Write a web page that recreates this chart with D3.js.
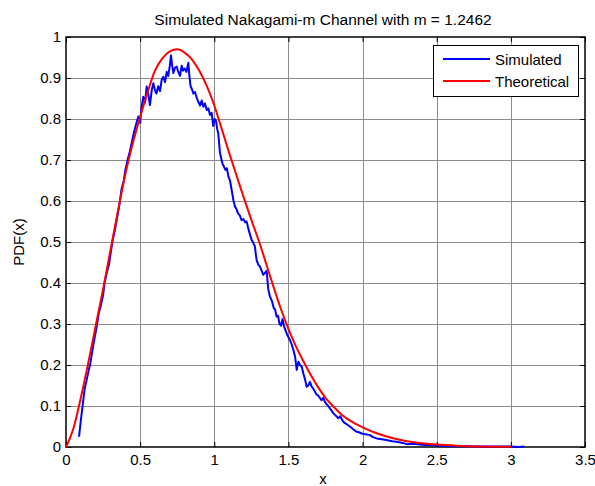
<!DOCTYPE html>
<html>
<head>
<meta charset="utf-8">
<script src="https://cdn.jsdelivr.net/npm/d3@7"></script>
<style>
  body { margin: 0; background: #fff; }
  text { font-family: "Liberation Sans", Arial, sans-serif; fill: #000; }
</style>
</head>
<body>
<div id="chart"></div>
<script>

// tick labels
var xTicks = [0, 0.5, 1, 1.5, 2, 2.5, 3, 3.5];
var yTicks = [0, 0.1, 0.2, 0.3, 0.4, 0.5, 0.6, 0.7, 0.8, 0.9, 1];

// theoretical pdf
var theoX = [0, 0.05, 0.1, 0.15, 0.2, 0.25, 0.3, 0.35, 0.4, 0.45,
             0.5, 0.55, 0.6, 0.65, 0.7, 0.75, 0.8, 0.85, 0.9, 0.95,
             1.0, 1.05, 1.1, 1.15, 1.2, 1.25, 1.3, 1.35, 1.4, 1.45,
             1.5, 1.55, 1.6, 1.65, 1.7, 1.75, 1.8, 1.85, 1.9, 1.95,
             2.0, 2.1, 2.2, 2.3, 2.4, 2.5, 2.6, 2.7, 2.8, 2.9, 3.0];
var theoY = [0, 0.045, 0.12, 0.205, 0.295, 0.385, 0.48, 0.575, 0.665, 0.74,
             0.805, 0.865, 0.918, 0.948, 0.965, 0.97, 0.962, 0.945, 0.917, 0.88,
             0.833, 0.776, 0.718, 0.662, 0.607, 0.554, 0.503, 0.447, 0.39, 0.336,
             0.288, 0.246, 0.21, 0.176, 0.146, 0.12, 0.10, 0.082, 0.068, 0.057,
             0.048, 0.033, 0.022, 0.014, 0.009, 0.006, 0.004, 0.002, 0.0012, 0.0007, 0.0004];

// simulated histogram pdf (noisy)
var simX = [0.088, 0.100, 0.112, 0.125, 0.140, 0.155, 0.165, 0.180, 0.195, 0.210,
            0.220, 0.235, 0.250, 0.260, 0.275, 0.290, 0.300, 0.315, 0.330, 0.345,
            0.360, 0.375, 0.390, 0.400, 0.415, 0.430, 0.445, 0.460, 0.475, 0.488,
            0.500, 0.510, 0.521, 0.533, 0.544, 0.555, 0.566, 0.578, 0.589, 0.600,
            0.610, 0.622, 0.634, 0.645, 0.656, 0.668, 0.679, 0.690, 0.700, 0.708,
            0.716, 0.724, 0.735, 0.746, 0.757, 0.769, 0.780, 0.790, 0.800, 0.812,
            0.825, 0.832, 0.840, 0.850, 0.859, 0.870, 0.881, 0.892, 0.904, 0.915,
            0.926, 0.937, 0.949, 0.960, 0.971, 0.982, 0.993, 1.003, 1.012, 1.020,
            1.027, 1.033, 1.038, 1.046, 1.056, 1.065, 1.075, 1.085, 1.095, 1.106,
            1.118, 1.130, 1.140, 1.150, 1.160, 1.172, 1.184, 1.196, 1.208, 1.218,
            1.230, 1.241, 1.252, 1.263, 1.274, 1.280, 1.286, 1.297, 1.308, 1.319,
            1.330, 1.342, 1.353, 1.364, 1.375, 1.390, 1.400, 1.410, 1.420, 1.430,
            1.440, 1.450, 1.460, 1.470, 1.480, 1.490, 1.510, 1.522, 1.533, 1.545,
            1.556, 1.567, 1.578, 1.590, 1.600, 1.612, 1.623, 1.634, 1.645, 1.656,
            1.668, 1.679, 1.690, 1.700, 1.713, 1.724, 1.735, 1.746, 1.758, 1.769,
            1.780, 1.792, 1.803, 1.815, 1.826, 1.836, 1.850, 1.865, 1.881, 1.895,
            1.915, 1.935, 1.960, 1.975, 1.994, 2.020, 2.050, 2.070, 2.095, 2.130,
            2.160, 2.200, 2.230, 2.270, 2.300, 2.340, 2.370, 2.420, 2.460, 2.520,
            2.600, 2.700, 2.800, 2.900, 3.000, 3.050, 3.090];
var simY = [0.025, 0.065, 0.100, 0.140, 0.165, 0.190, 0.205, 0.240, 0.270, 0.300,
            0.325, 0.345, 0.370, 0.400, 0.425, 0.445, 0.470, 0.505, 0.530, 0.560,
            0.590, 0.630, 0.650, 0.675, 0.700, 0.720, 0.745, 0.770, 0.790, 0.806,
            0.790, 0.830, 0.854, 0.840, 0.879, 0.860, 0.834, 0.870, 0.887, 0.870,
            0.862, 0.880, 0.868, 0.895, 0.903, 0.890, 0.915, 0.905, 0.930, 0.955,
            0.930, 0.912, 0.925, 0.928, 0.915, 0.905, 0.930, 0.918, 0.923, 0.915,
            0.937, 0.905, 0.880, 0.872, 0.862, 0.866, 0.852, 0.842, 0.833, 0.845,
            0.830, 0.838, 0.822, 0.826, 0.810, 0.815, 0.783, 0.800, 0.795, 0.775,
            0.765, 0.740, 0.718, 0.705, 0.690, 0.684, 0.676, 0.680, 0.660, 0.650,
            0.625, 0.600, 0.586, 0.580, 0.570, 0.565, 0.553, 0.556, 0.548, 0.550,
            0.532, 0.518, 0.505, 0.498, 0.489, 0.470, 0.455, 0.445, 0.440, 0.430,
            0.420, 0.425, 0.430, 0.385, 0.367, 0.355, 0.340, 0.335, 0.318, 0.320,
            0.300, 0.296, 0.312, 0.295, 0.285, 0.275, 0.261, 0.250, 0.237, 0.220,
            0.188, 0.208, 0.200, 0.196, 0.180, 0.165, 0.147, 0.150, 0.159, 0.148,
            0.142, 0.135, 0.128, 0.126, 0.119, 0.114, 0.120, 0.110, 0.104, 0.100,
            0.094, 0.088, 0.082, 0.078, 0.074, 0.070, 0.075, 0.064, 0.058, 0.055,
            0.050, 0.044, 0.037, 0.036, 0.033, 0.031, 0.029, 0.024, 0.021, 0.019,
            0.017, 0.014, 0.013, 0.010, 0.007, 0.008, 0.007, 0.005, 0.005, 0.003,
            0.002, 0.002, 0.001, 0.001, 0.001, 0.000, 0.001];

var seriesNames = ["Simulated", "Theoretical"];
var seriesColors = ["#0000ff", "#ff0000"];

// set the dimensions and margins of the graph
var W = 595, H = 486;
var margin = {top: 37, right: 10, bottom: 39, left: 66};
var width = W - margin.left - margin.right,
    height = H - margin.top - margin.bottom;

var svg = d3.select("#chart")
  .append("svg")
    .attr("width", W)
    .attr("height", H);

var g = svg.append("g")
    .attr("transform", "translate(" + margin.left + "," + margin.top + ")");

var x = d3.scaleLinear().domain([0, 3.5]).range([0, width]);
var y = d3.scaleLinear().domain([0, 1]).range([height, 0]);

function px(v) { return Math.round(v) + 0.5; }

// grid lines (matlab "grid on")
g.selectAll(".vgrid")
  .data(xTicks.slice(1, -1))
  .enter().append("line")
    .attr("x1", d => px(x(d))).attr("x2", d => px(x(d)))
    .attr("y1", 0).attr("y2", height)
    .attr("stroke", "#8c8c8c").attr("stroke-width", 1);

g.selectAll(".hgrid")
  .data(yTicks.slice(1, -1))
  .enter().append("line")
    .attr("x1", 0).attr("x2", width)
    .attr("y1", d => px(y(d))).attr("y2", d => px(y(d)))
    .attr("stroke", "#8c8c8c").attr("stroke-width", 1);

// axes with inward ticks on all four sides
function styleAxis(sel) {
  sel.select(".domain").remove();
  sel.selectAll(".tick line").attr("stroke", "#000");
  sel.selectAll("text").style("font-size", "15px").attr("fill", "#000");
}

g.append("g")
  .attr("transform", "translate(0," + height + ")")
  .call(d3.axisBottom(x).tickValues(xTicks).tickSize(-5).tickPadding(7).tickFormat(d => d))
  .call(styleAxis);

g.append("g")
  .call(d3.axisTop(x).tickValues(xTicks).tickSize(-5).tickFormat(""))
  .call(styleAxis);

g.append("g")
  .call(d3.axisLeft(y).tickValues(yTicks).tickSize(-5).tickPadding(5).tickFormat(d => d))
  .call(styleAxis);

g.append("g")
  .attr("transform", "translate(" + width + ",0)")
  .call(d3.axisRight(y).tickValues(yTicks).tickSize(-5).tickFormat(""))
  .call(styleAxis);

// axes box
g.append("rect")
  .attr("x", 0).attr("y", 0)
  .attr("width", width).attr("height", height)
  .attr("fill", "none")
  .attr("stroke", "#000")
  .attr("stroke-width", 1.5);

// the curves
var simData = simX.map((v, i) => [v, simY[i]]);
var theoData = theoX.map((v, i) => [v, theoY[i]]);

var simLine = d3.line().x(d => x(d[0])).y(d => y(d[1]));
var theoLine = d3.line().x(d => x(d[0])).y(d => y(d[1])).curve(d3.curveMonotoneX);

g.append("path")
  .datum(simData)
  .attr("d", simLine)
  .attr("fill", "none")
  .attr("stroke", seriesColors[0])
  .attr("stroke-width", 2)
  .attr("stroke-linejoin", "round");

g.append("path")
  .datum(theoData)
  .attr("d", theoLine)
  .attr("fill", "none")
  .attr("stroke", seriesColors[1])
  .attr("stroke-width", 2);

// title and labels
svg.append("text")
  .attr("x", 323).attr("y", 25)
  .attr("text-anchor", "middle")
  .style("font-size", "15.5px")
  .text("Simulated Nakagami-m Channel with m = 1.2462");

svg.append("text")
  .attr("x", 323).attr("y", 484)
  .attr("text-anchor", "middle")
  .style("font-size", "15px")
  .text("x");

svg.append("text")
  .attr("transform", "translate(24," + (margin.top + height / 2) + ") rotate(-90)")
  .attr("text-anchor", "middle")
  .style("font-size", "15px")
  .text("PDF(x)");

// legend
var legend = svg.append("g").attr("transform", "translate(433,45)");

legend.append("rect")
  .attr("x", 0.5).attr("y", 0.5)
  .attr("width", 145).attr("height", 51)
  .attr("fill", "#fff")
  .attr("stroke", "#000")
  .attr("stroke-width", 1);

seriesNames.forEach(function(name, i) {
  var ly = 14 + i * 22;
  legend.append("line")
    .attr("x1", 10).attr("x2", 57)
    .attr("y1", ly).attr("y2", ly)
    .attr("stroke", seriesColors[i])
    .attr("stroke-width", 2);
  legend.append("text")
    .attr("x", 62).attr("y", ly + 6)
    .style("font-size", "15px")
    .text(name);
});

</script>
</body>
</html>
